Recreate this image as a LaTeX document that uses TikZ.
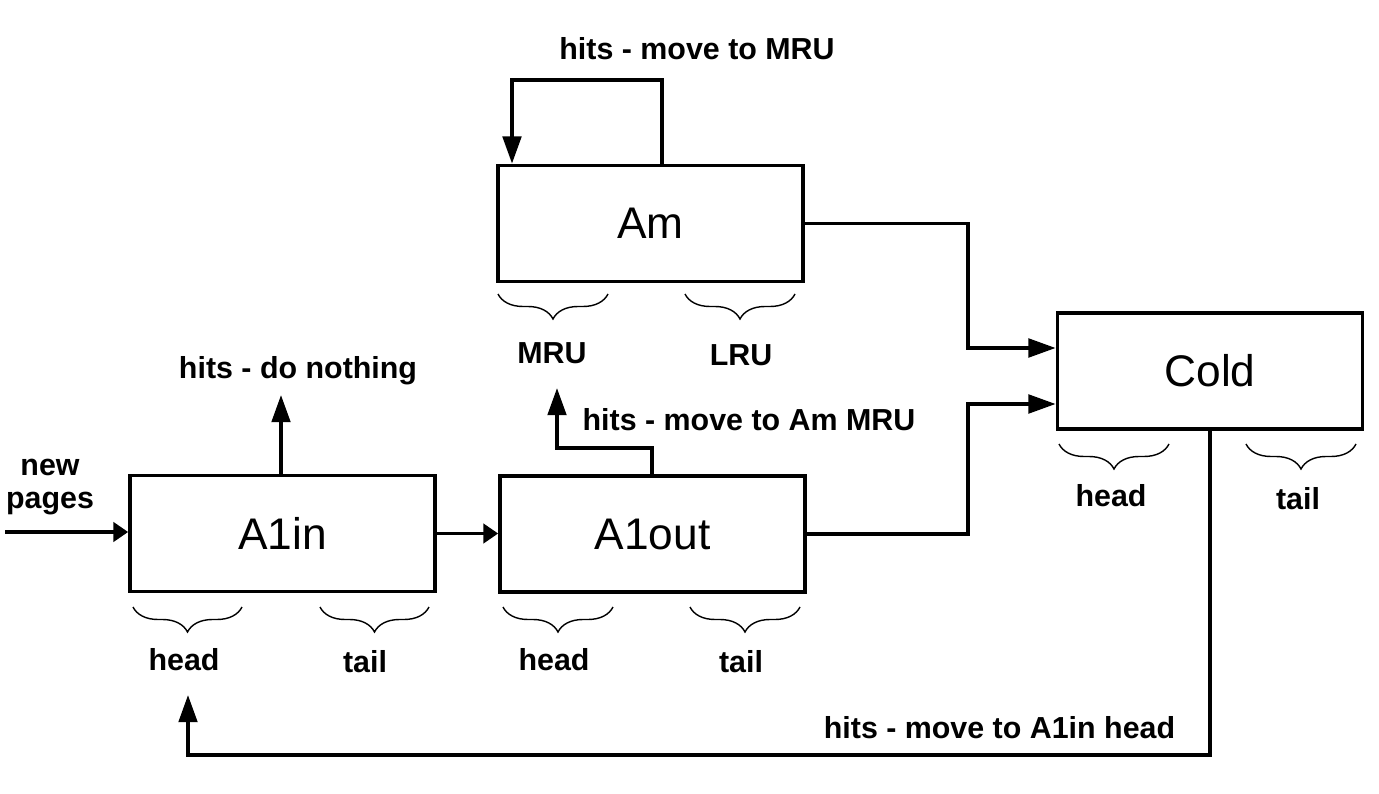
\documentclass[tikz,border=0pt]{standalone}
\usepackage{fontspec}
\setmainfont{Liberation Sans}
\usetikzlibrary{arrows.meta,decorations.pathreplacing}
\tikzset{
  box/.style={draw,line width=2.1pt,minimum width=6.1cm,minimum height=2.32cm,inner sep=0pt,
    font=\fontsize{25.2}{30}\selectfont},
  lbl/.style={inner sep=0pt,font=\bfseries\fontsize{17.3}{21}\selectfont},
  arr/.style={line width=2.1pt,-{Triangle[length=15.5pt,width=10.5pt]}},
  arrshort/.style={line width=2.1pt,-{Triangle[length=8.5pt,width=11pt]}},
  brc/.style={line width=0.8pt,decorate,decoration={brace,mirror,amplitude=0.5cm,aspect=0.5}}
}
\begin{document}
\begin{tikzpicture}[x=0.02cm,y=-0.02cm]
\useasboundingbox (0,0) rectangle (1379,794);
% boxes
\node[box] (Am) at (650.5,223.5) {Am};
\node[box] (A1in) at (282.5,533.5) {A1in};
\node[box] (A1out) at (652.5,534) {A1out};
\node[box] (Cold) at (1210,371) {Cold};
% free ends
\coordinate (src) at (5,532);
\coordinate (nothing) at (281,395);
\coordinate (amru) at (557,388);
\coordinate (headtip) at (188,695);
% labels
\node[lbl] (l1) at (697,49) {hits - move to MRU};
\node[lbl] (l2) at (298,371) {hits - do nothing};
\node[lbl,align=center,font=\bfseries\fontsize{17.3}{19.3}\selectfont] (l3) at (50,487) {new\\pages};
\node[lbl] (l4) at (749,420) {hits - move to Am MRU};
\node[lbl] (l5) at (999.5,728) {hits - move to A1in head};
\node[lbl] (mru) at (552,353) {MRU};
\node[lbl] (lru) at (741,355) {LRU};
\node[lbl] (h1) at (184,660) {head};
\node[lbl] (t1) at (365,662) {tail};
\node[lbl] (h2) at (554,660) {head};
\node[lbl] (t2) at (741,662) {tail};
\node[lbl] (h3) at (1111,496) {head};
\node[lbl] (t3) at (1298,499) {tail};
% braces
\draw[brc] (133,607) -- (242,607);
\draw[brc] (320,607) -- (429,607);
\draw[brc] (503,607) -- (613,607);
\draw[brc] (690,607) -- (800,607);
\draw[brc] (498,294) -- (608,294);
\draw[brc] (685,294) -- (795,294);
\draw[brc] (1059,444) -- (1169,444);
\draw[brc] (1246,444) -- (1356,444);
% connectors
\draw[arrshort] (src) -- (A1in.west |- src);
\draw[arr] (A1in.north -| nothing) -- (nothing);
\draw[arrshort] (A1in.east) -- (A1out.west |- A1in.east);
\draw[arr] (A1out.north -| 652,0) -- (652,448) -| (amru);
\draw[arr] (A1out.east) -| (968,404) -- (Cold.west |- 0,404);
\draw[arr] (Am.east) -| (968,348) -- (Cold.west |- 0,348);
\draw[arr] (Am.north -| 662,0) -- (662,80) -| (Am.north -| 512,0);
\draw[arr] (Cold.south) -- (1210,755) -| (headtip);
\end{tikzpicture}
\end{document}
